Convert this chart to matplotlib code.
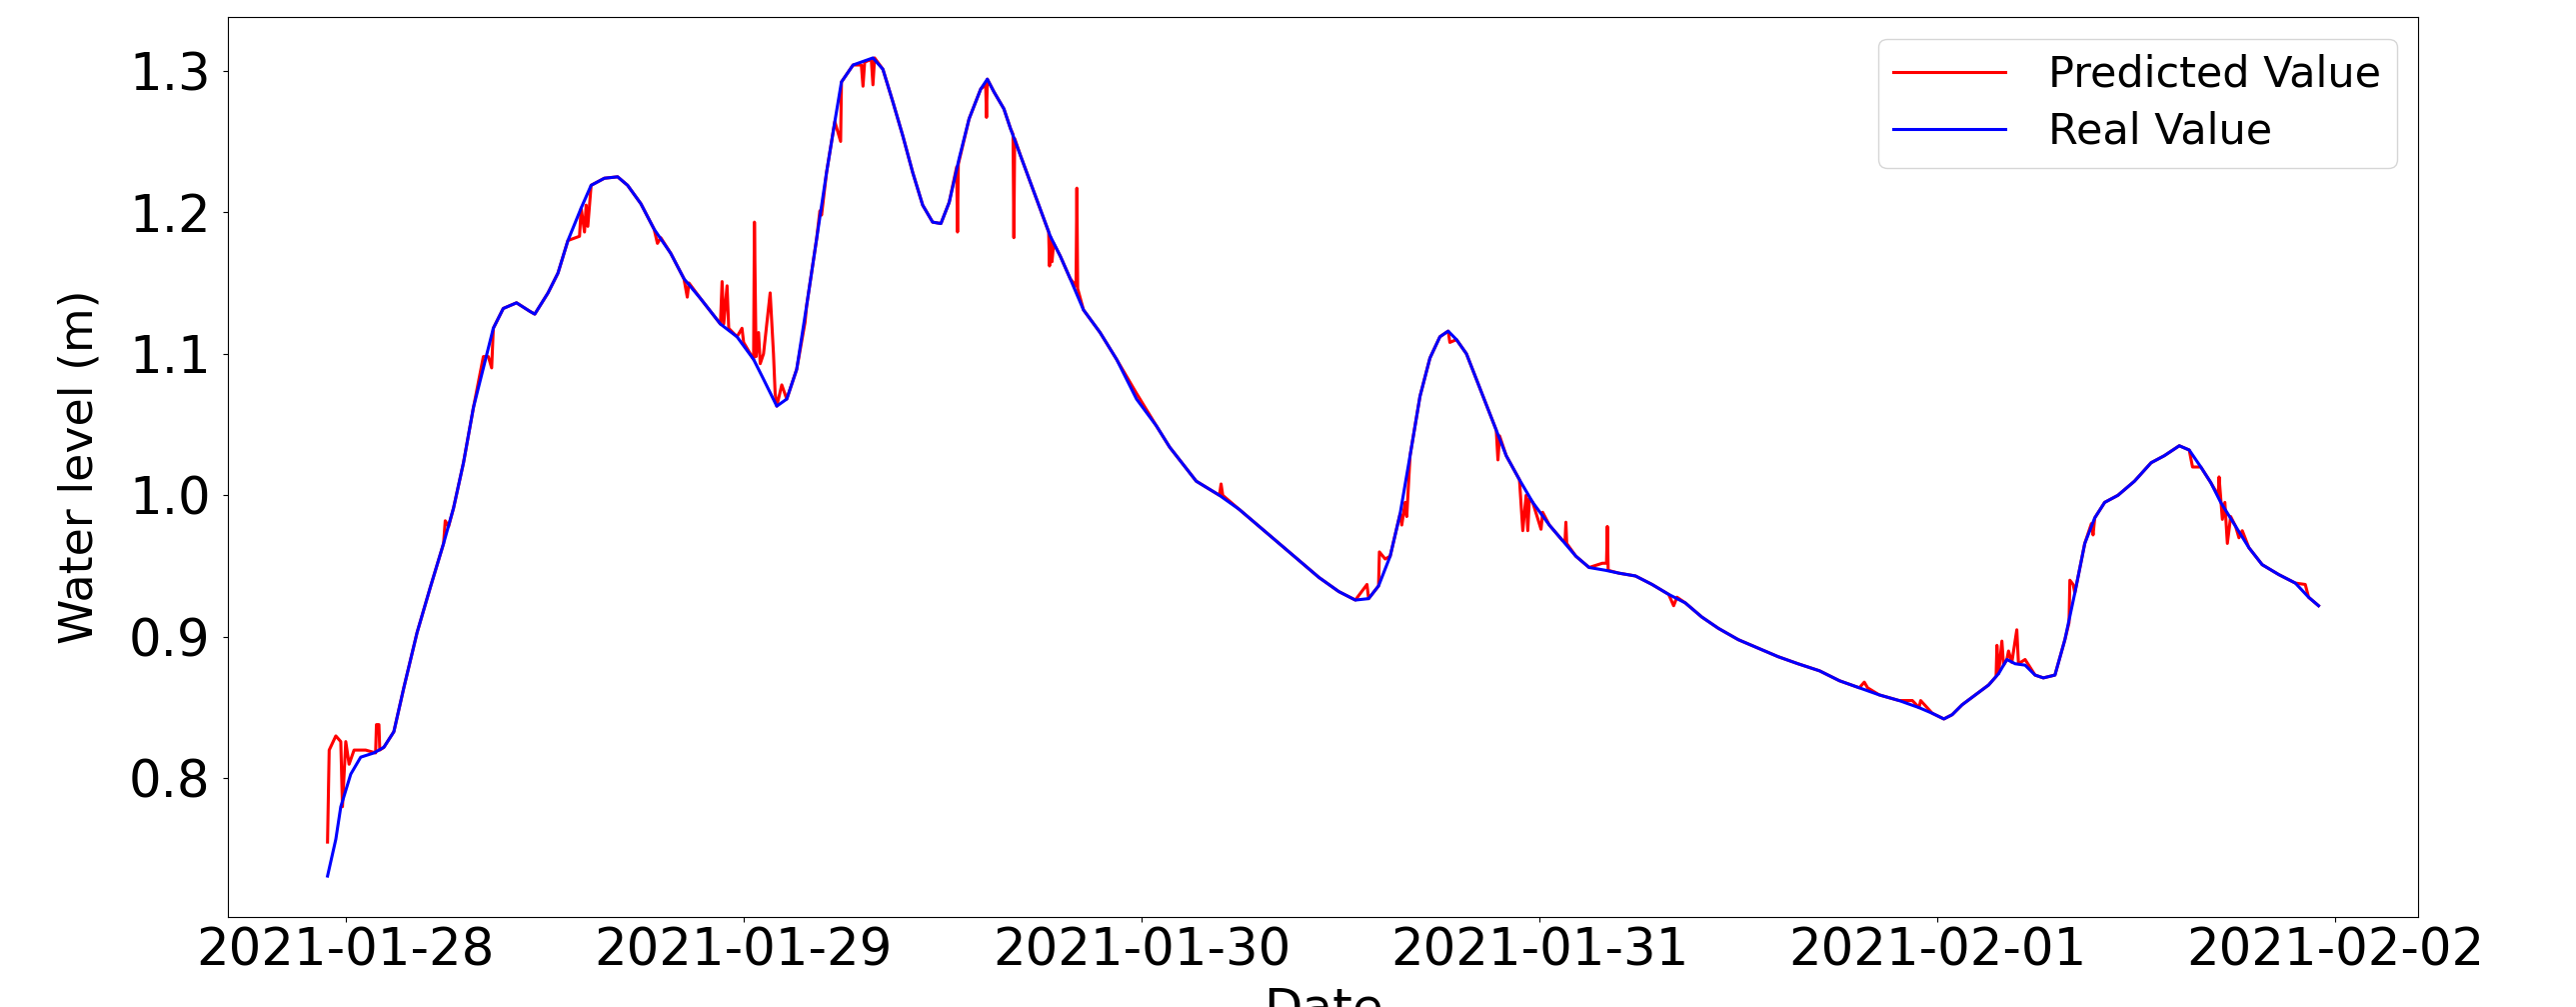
import matplotlib
matplotlib.use("Agg")
import matplotlib.pyplot as plt
import matplotlib.dates as mdates
import numpy as np
import pandas as pd

START = pd.Timestamp("2021-01-28 00:00")

# real water level, hours from 2021-01-28 00:00
real_hours = [-1.1, -0.6, -0.3, 0.3, 0.9, 1.7, 2.3, 2.9, 3.5, 4.3, 5.1, 5.9, 6.5, 7.1, 7.7,
              8.3, 8.9, 9.5, 10.3, 11.1, 11.4, 12.2, 12.8, 13.4, 14.2, 14.8, 15.6, 16.4, 17.0,
              17.8, 18.6, 19.6, 20.4, 21.4, 22.6, 23.6, 24.6, 25.2, 26.0, 26.6, 27.2, 27.8,
              28.4, 29.0, 29.5, 29.9, 30.6, 31.8, 32.4, 33.0, 33.6, 34.2, 34.8, 35.4, 35.9,
              36.4, 37.0, 37.6, 38.3, 38.7, 39.1, 39.7, 40.1, 40.7, 41.3, 41.9, 42.5, 43.1,
              43.7, 44.5, 45.5, 46.5, 47.7, 48.9, 49.7, 51.3, 52.7, 53.9, 55.1, 56.3, 57.5,
              58.7, 59.9, 60.9, 61.7, 62.3, 63.0, 63.6, 64.2, 64.8, 65.4, 66.0, 66.5, 67.0,
              67.6, 68.2, 68.8, 69.4, 70.0, 70.8, 71.6, 72.6, 73.4, 74.2, 75.0, 76.0, 76.8,
              77.8, 78.8, 79.8, 80.8, 81.8, 82.8, 84.0, 85.2, 86.4, 87.6, 88.9, 90.1, 91.3,
              92.5, 93.7, 94.9, 95.7, 96.4, 96.9, 97.5, 98.3, 99.1, 99.7, 100.2, 100.7, 101.3,
              101.9, 102.4, 103.1, 103.7, 104.3, 104.9, 105.5, 106.1, 106.9, 107.9, 108.9,
              109.7, 110.6, 111.2, 111.9, 112.5, 113.1, 114.0, 114.8, 115.6, 116.6, 117.6,
              118.4, 119.0]
real_level = [0.731, 0.757, 0.780, 0.803, 0.815, 0.818, 0.822, 0.833, 0.864, 0.903, 0.935, 0.966,
              0.991, 1.023, 1.062, 1.090, 1.118, 1.132, 1.136, 1.130, 1.128, 1.143, 1.157, 1.180,
              1.203, 1.219, 1.224, 1.225, 1.219, 1.206, 1.188, 1.171, 1.153, 1.139, 1.121, 1.112,
              1.096, 1.082, 1.063, 1.068, 1.089, 1.134, 1.181, 1.228, 1.264, 1.292, 1.304, 1.309,
              1.301, 1.278, 1.254, 1.228, 1.205, 1.193, 1.192, 1.207, 1.238, 1.266, 1.287, 1.294,
              1.285, 1.273, 1.259, 1.240, 1.221, 1.202, 1.183, 1.169, 1.153, 1.131, 1.115, 1.096,
              1.068, 1.049, 1.034, 1.010, 1.000, 0.990, 0.978, 0.966, 0.954, 0.942, 0.932, 0.926,
              0.927, 0.936, 0.957, 0.987, 1.028, 1.070, 1.097, 1.112, 1.116, 1.110, 1.100, 1.082,
              1.064, 1.046, 1.028, 1.011, 0.995, 0.979, 0.968, 0.957, 0.949, 0.947, 0.945, 0.943,
              0.937, 0.930, 0.924, 0.914, 0.906, 0.898, 0.892, 0.886, 0.881, 0.876, 0.869, 0.864,
              0.859, 0.855, 0.850, 0.846, 0.842, 0.845, 0.852, 0.859, 0.866, 0.874, 0.884, 0.881,
              0.880, 0.873, 0.871, 0.873, 0.898, 0.931, 0.966, 0.984, 0.995, 1.000, 1.010, 1.023,
              1.028, 1.035, 1.032, 1.020, 1.009, 0.995, 0.978, 0.963, 0.951, 0.944, 0.938, 0.928,
              0.922]

# predicted water level (same hours axis, includes the spikes)
pred_hours = [-1.1, -1.0, -0.6, -0.3, -0.2, 0.0, 0.2, 0.5, 1.2, 1.8, 1.85, 2.0, 2.05, 2.3, 2.9,
              3.5, 4.3, 5.1, 5.9, 6.0, 6.2, 6.5, 7.1, 7.7, 8.3, 8.6, 8.8, 8.9, 9.5, 10.3, 11.1,
              11.4, 12.2, 12.8, 13.4, 14.1, 14.2, 14.4, 14.5, 14.6, 14.8, 15.6, 16.4, 17.0, 17.8,
              18.6, 18.8, 19.0, 19.6, 20.4, 20.6, 20.7, 21.4, 22.6, 22.7, 22.8, 23.0, 23.1, 23.6,
              23.9, 24.0, 24.6, 24.65, 24.75, 24.9, 25.0, 25.2, 25.6, 25.8, 25.9, 26.0, 26.3,
              26.6, 27.2, 27.7, 27.8, 28.4, 28.6, 28.7, 29.0, 29.5, 29.85, 29.9, 30.6, 31.1,
              31.2, 31.3, 31.7, 31.8, 31.9, 32.4, 33.0, 33.6, 34.2, 34.8, 35.4, 35.9, 36.4,
              36.85, 36.9, 36.95, 37.6, 38.3, 38.6, 38.65, 38.7, 39.1, 39.7, 40.1, 40.25, 40.3,
              40.35, 40.7, 41.3, 41.9, 42.4, 42.45, 42.5, 42.6, 42.7, 43.1, 43.7, 44.05, 44.1,
              44.15, 44.5, 45.5, 46.5, 47.7, 48.9, 49.7, 51.3, 52.7, 52.8, 52.9, 53.9, 55.1,
              56.3, 57.5, 58.7, 59.9, 60.9, 61.6, 61.7, 62.3, 62.35, 62.7, 63.0, 63.6, 63.7,
              63.9, 64.0, 64.2, 64.8, 65.4, 66.0, 66.5, 66.6, 67.0, 67.6, 68.2, 68.8, 69.4,
              69.5, 69.6, 70.0, 70.8, 71.0, 71.2, 71.3, 71.4, 71.6, 72.1, 72.2, 72.6, 73.4,
              73.55, 73.6, 73.65, 74.2, 75.0, 75.8, 76.05, 76.1, 76.15, 76.8, 77.8, 78.8, 79.8,
              80.1, 80.3, 80.8, 81.8, 82.8, 84.0, 85.2, 86.4, 87.6, 88.9, 90.1, 91.3, 91.6,
              91.8, 92.5, 93.7, 94.5, 94.9, 95.0, 95.7, 96.4, 96.9, 97.5, 98.3, 99.1, 99.55,
              99.6, 99.7, 99.9, 100.0, 100.2, 100.3, 100.5, 100.8, 100.9, 101.3, 101.9, 102.4,
              103.1, 103.7, 103.95, 104.0, 104.2, 104.3, 104.9, 105.3, 105.4, 105.5, 106.1,
              106.9, 107.9, 108.9, 109.7, 110.6, 111.2, 111.4, 111.9, 112.5, 112.95, 113.0,
              113.2, 113.35, 113.5, 113.7, 114.0, 114.2, 114.4, 114.8, 115.6, 116.6, 117.6,
              118.2, 118.4, 119.0]
pred_level = [0.755, 0.820, 0.830, 0.826, 0.780, 0.826, 0.810, 0.820, 0.820, 0.818, 0.838, 0.838,
              0.820, 0.822, 0.833, 0.864, 0.903, 0.935, 0.966, 0.982, 0.978, 0.991, 1.023, 1.062,
              1.098, 1.098, 1.090, 1.118, 1.132, 1.136, 1.130, 1.128, 1.143, 1.157, 1.180, 1.183,
              1.203, 1.186, 1.205, 1.190, 1.219, 1.224, 1.225, 1.219, 1.206, 1.188, 1.178, 1.182,
              1.171, 1.153, 1.140, 1.150, 1.139, 1.121, 1.151, 1.121, 1.148, 1.118, 1.112, 1.118,
              1.108, 1.096, 1.193, 1.098, 1.115, 1.093, 1.100, 1.143, 1.100, 1.072, 1.063, 1.078,
              1.068, 1.089, 1.122, 1.134, 1.181, 1.201, 1.198, 1.228, 1.264, 1.250, 1.292, 1.304,
              1.304, 1.289, 1.306, 1.308, 1.290, 1.309, 1.301, 1.278, 1.254, 1.228, 1.205, 1.193,
              1.192, 1.207, 1.232, 1.186, 1.234, 1.266, 1.287, 1.290, 1.267, 1.294, 1.285, 1.273,
              1.259, 1.255, 1.182, 1.252, 1.240, 1.221, 1.202, 1.186, 1.162, 1.183, 1.165, 1.178,
              1.169, 1.153, 1.148, 1.217, 1.146, 1.131, 1.115, 1.096, 1.072, 1.049, 1.034, 1.010,
              1.000, 1.008, 1.000, 0.990, 0.978, 0.966, 0.954, 0.942, 0.932, 0.926, 0.937, 0.927,
              0.936, 0.960, 0.955, 0.957, 0.987, 0.979, 0.995, 0.985, 1.028, 1.070, 1.097, 1.112,
              1.116, 1.108, 1.110, 1.100, 1.082, 1.064, 1.046, 1.025, 1.042, 1.028, 1.011, 0.975,
              1.000, 0.975, 0.998, 0.995, 0.976, 0.988, 0.979, 0.968, 0.968, 0.981, 0.966, 0.957,
              0.949, 0.952, 0.952, 0.978, 0.947, 0.945, 0.943, 0.937, 0.930, 0.922, 0.928, 0.924,
              0.914, 0.906, 0.898, 0.892, 0.886, 0.881, 0.876, 0.869, 0.864, 0.868, 0.864, 0.859,
              0.855, 0.855, 0.850, 0.855, 0.846, 0.842, 0.845, 0.852, 0.859, 0.866, 0.872, 0.894,
              0.874, 0.897, 0.880, 0.884, 0.890, 0.882, 0.905, 0.881, 0.884, 0.873, 0.871, 0.873,
              0.898, 0.910, 0.940, 0.937, 0.931, 0.966, 0.980, 0.972, 0.984, 0.995, 1.000, 1.010,
              1.023, 1.028, 1.035, 1.032, 1.020, 1.020, 1.009, 1.000, 1.013, 0.983, 0.995, 0.966,
              0.985, 0.978, 0.970, 0.975, 0.963, 0.951, 0.944, 0.938, 0.937, 0.928, 0.922]

real_time = START + pd.to_timedelta(real_hours, unit="h")
pred_time = START + pd.to_timedelta(pred_hours, unit="h")

fig = plt.figure(figsize=(25.77, 10.07), dpi=100)
ax = fig.add_axes([0.0885, 0.0894, 0.8502, 0.8937])

ax.plot(pred_time, pred_level, color="red", linewidth=2.2, label="Predicted Value")
ax.plot(real_time, real_level, color="blue", linewidth=2.2, label="Real Value")

ax.xaxis.set_major_locator(mdates.DayLocator())
ax.xaxis.set_major_formatter(mdates.DateFormatter("%Y-%m-%d"))
ax.tick_params(axis="both", labelsize=37)
ax.tick_params(axis="y", pad=9)

ax.set_xlabel("Date", fontsize=36, labelpad=6)
ax.set_ylabel("Water level (m)", fontsize=33)
ax.yaxis.set_label_coords(-0.0575, 0.5)

ax.legend(loc="upper right", fontsize=31, handlelength=2.6, handletextpad=1.0,
          labelspacing=0.35, borderpad=0.35)

fig.savefig("out.png", dpi=100)
